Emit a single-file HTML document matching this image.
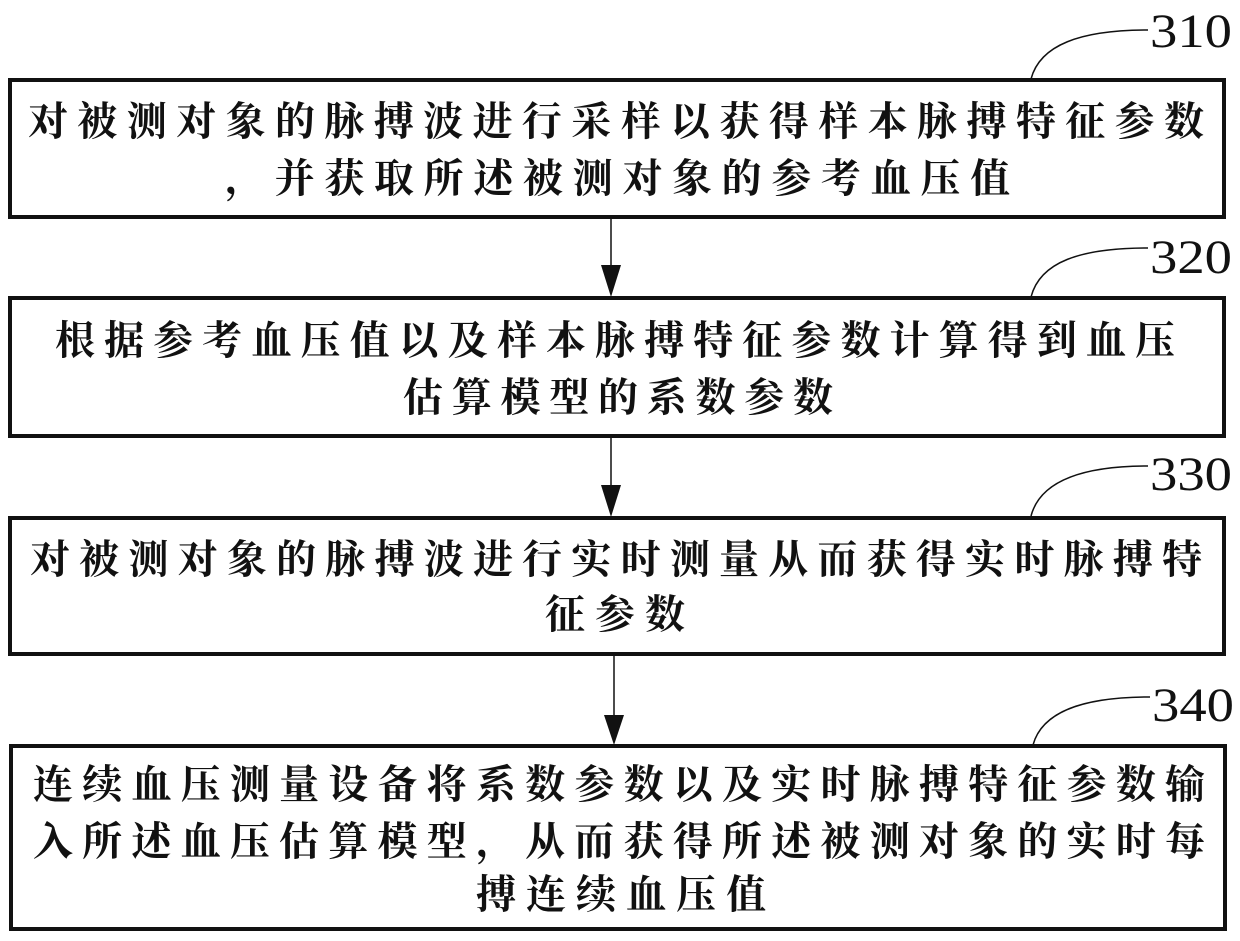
<!DOCTYPE html>
<html><head><meta charset="utf-8"><style>
html,body{margin:0;padding:0;background:#fff;}
svg{display:block;}
.t{font-family:"Liberation Serif","Noto Serif CJK SC","Noto Sans CJK SC",serif;font-size:40px;font-weight:bold;fill:#111;}
.n{font-family:"Liberation Serif",serif;font-size:48px;fill:#111;}
</style></head><body>
<svg width="1240" height="941" viewBox="0 0 1240 941" xmlns="http://www.w3.org/2000/svg">
<g fill="none" stroke="#111" stroke-width="4">
<rect x="10" y="80" width="1214" height="137"/>
<rect x="10" y="298" width="1214" height="138"/>
<rect x="10" y="518" width="1214" height="136"/>
<rect x="11" y="746" width="1214" height="183"/>
</g>
<g fill="none" stroke="#111" stroke-width="1.5">
<line x1="611" y1="219" x2="611" y2="270"/>
<line x1="611" y1="438" x2="611" y2="490"/>
<line x1="614" y1="656" x2="614" y2="720"/>
<path d="M1031 79 C1040 45,1080 30,1148 30"/>
<path d="M1031 297 C1040 262,1080 248,1148 248"/>
<path d="M1031 516 C1040 482,1080 466,1148 466"/>
<path d="M1033 745 C1042 712,1082 697,1150 697"/>
</g>
<g fill="#111">
<polygon points="601,265 621,265 611,297"/>
<polygon points="601,485 621,485 611,517"/>
<polygon points="604,715 624,715 614,745"/>
</g>
<g class="n">
<text x="1150" y="47" textLength="82" lengthAdjust="spacingAndGlyphs">310</text>
<text x="1150" y="273" textLength="82" lengthAdjust="spacingAndGlyphs">320</text>
<text x="1150" y="490" textLength="82" lengthAdjust="spacingAndGlyphs">330</text>
<text x="1152" y="721" textLength="82" lengthAdjust="spacingAndGlyphs">340</text>
</g>
<g class="t">
<text x="28" y="135" textLength="1176" lengthAdjust="spacing">对被测对象的脉搏波进行采样以获得样本脉搏特征参数</text>
<text x="225" y="192" textLength="785" lengthAdjust="spacing">，并获取所述被测对象的参考血压值</text>
<text x="55" y="354" textLength="1120" lengthAdjust="spacing">根据参考血压值以及样本脉搏特征参数计算得到血压</text>
<text x="403" y="411" textLength="430" lengthAdjust="spacing">估算模型的系数参数</text>
<text x="30" y="573" textLength="1172" lengthAdjust="spacing">对被测对象的脉搏波进行实时测量从而获得实时脉搏特</text>
<text x="545" y="628" textLength="140" lengthAdjust="spacing">征参数</text>
<text x="33" y="798" textLength="1172" lengthAdjust="spacing">连续血压测量设备将系数参数以及实时脉搏特征参数输</text>
<text x="33" y="855" textLength="1172" lengthAdjust="spacing">入所述血压估算模型，从而获得所述被测对象的实时每</text>
<text x="476" y="908" textLength="290" lengthAdjust="spacing">搏连续血压值</text>
</g>
</svg>
</body></html>
